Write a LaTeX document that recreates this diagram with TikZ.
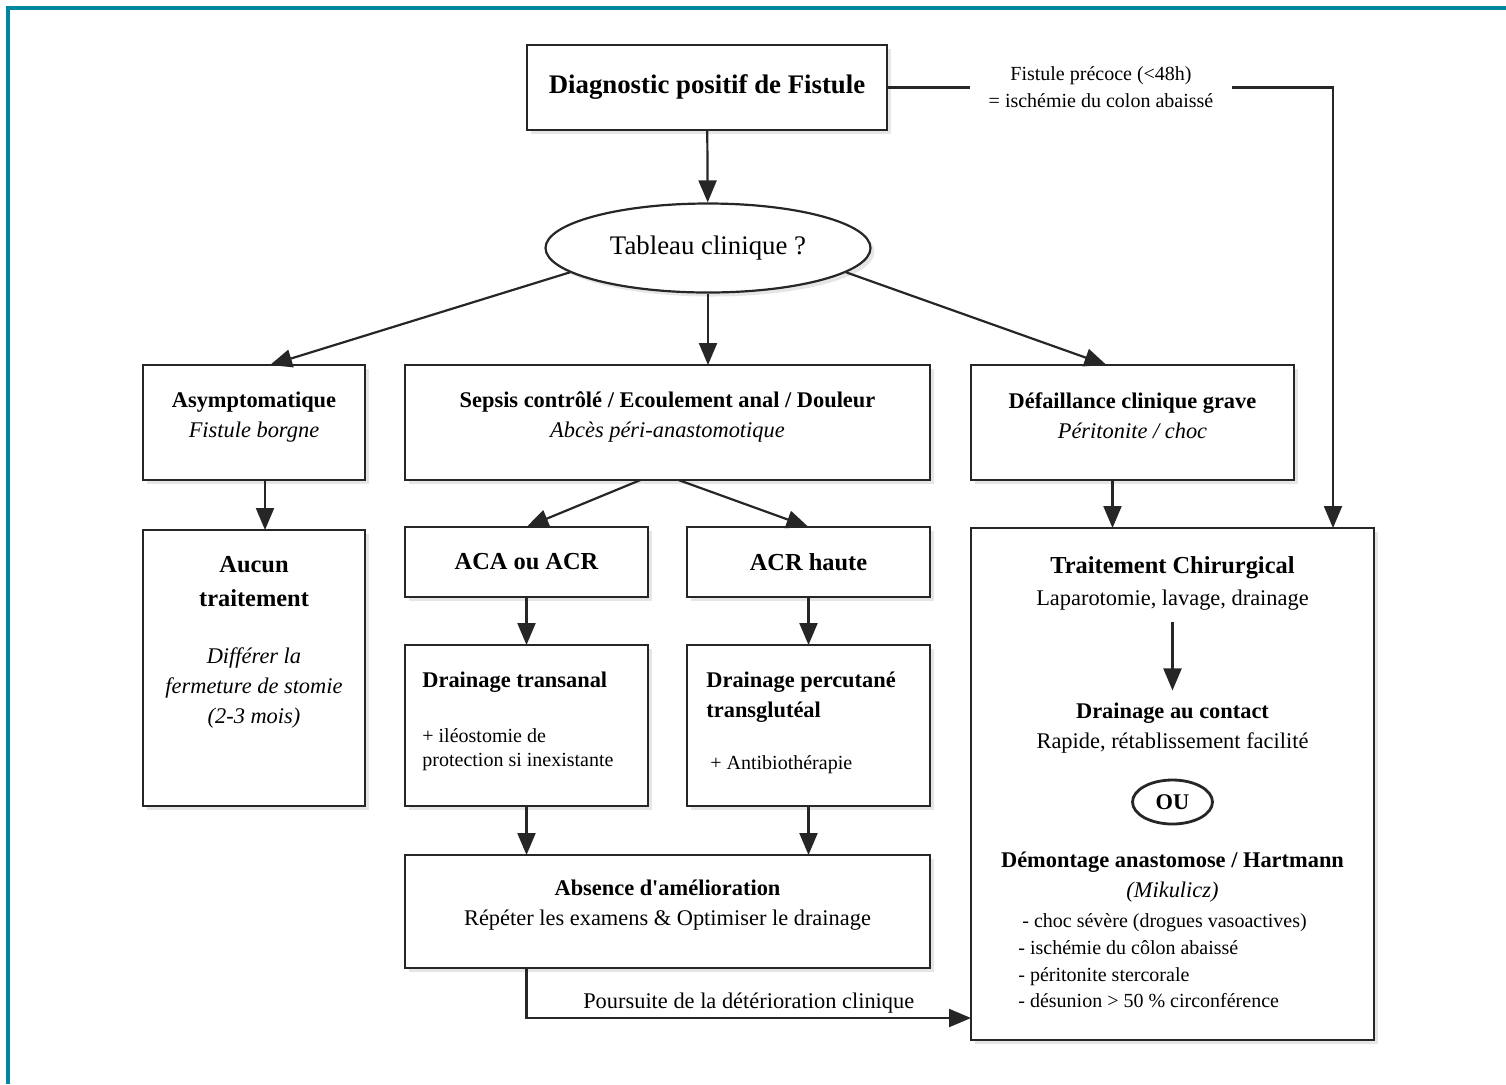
\documentclass[tikz,border=0pt]{standalone}
\usepackage{fontspec}
\setmainfont{Liberation Serif}
\usetikzlibrary{
  arrows.meta,
  calc,
  shadows,
  shapes.geometric
}
\definecolor{frame}{RGB}{0,134,161}
\colorlet{ink}{black!85}

\newcommand\sizetitle{\fontsize{13.4pt}{16pt}\selectfont}
\newcommand\sizehead{\fontsize{12.2pt}{17pt}\selectfont}
\newcommand\sizebody{\fontsize{11.2pt}{15pt}\selectfont}
\newcommand\sizesmall{\fontsize{10pt}{13pt}\selectfont}

\tikzset{
  % Shared values that are assigned to different keys in the styles below.
  globals/line width/.initial=1.1pt,
  globals/shadow/.style={
    opacity=0.2,
    shadow xshift=2pt,
    shadow yshift=-2pt},
%
  % For plain connectors.
  line/.style={
    line width=\pgfkeysvalueof{/tikz/globals/line width},
    draw=ink},
%
  % For connectors with one arrow.
  connector/.style={
    line,
    -{Triangle[length=11pt,width=9pt]}},
%
  % For the boxes.  Filled so that the shadow stays behind.
  box/.style={
    line,
    fill=white,
    inner sep=0pt,
    outer sep=0pt,
    drop shadow={globals/shadow}},
%
  % For the question in the ellipse.
  question/.style={
    line,
    ellipse,
    fill=white,
    inner sep=0pt,
    drop shadow={globals/shadow}},
%
  % For texts put into a box.
  caption/.style={
    inner sep=0pt,
    align=center}
}

\begin{document}
\begin{tikzpicture}[x=0.5pt,y=-0.5pt]
  \useasboundingbox (0,0) rectangle (1506,1084);

  % The coloured frame round the figure.
  \fill[frame] (6,6) rectangle (1506,10);
  \fill[frame] (6,6) rectangle (10,1084);

  \node[box, minimum width=180pt, minimum height=42.5pt, font=\sizetitle\bfseries]
    (diag) at (707,87.5) {Diagnostic positif de Fistule};
  \node[caption, inner xsep=9pt, font=\fontsize{10pt}{13.5pt}\selectfont]
    (precoce) at (1101,87.5) {Fistule précoce (<48h)\\= ischémie du colon abaissé};
  \node[question, minimum width=162.5pt, minimum height=44.5pt, font=\sizetitle]
    (tab) at (708,248) {Tableau clinique ?};

  % First row.
  \node[box, minimum width=111pt, minimum height=57.5pt] (asym) at (254,422.5) {};
  \node[caption, font=\sizebody]
    (asymT) at (254,417) {\textbf{Asymptomatique}\\\textit{Fistule borgne}};
  \node[box, minimum width=262.5pt, minimum height=57.5pt] (sepsis) at (667.5,422.5) {};
  \node[caption, font=\sizebody]
    (sepsisT) at (667.5,417)
    {\textbf{Sepsis contrôlé / Ecoulement anal / Douleur}\\\textit{Abcès péri-anastomotique}};
  \node[box, minimum width=161.5pt, minimum height=57.5pt] (def) at (1132.5,422.5) {};
  \node[caption, font=\sizebody]
    (defT) at (1132.5,416) {\textbf{Défaillance clinique grave}\\\textit{Péritonite / choc}};

  % Left column.
  \node[box, minimum width=111pt, minimum height=138pt] (aucun) at (254,668) {};
  \node[caption, font=\sizehead\bfseries] (aucunT) at (254,582) {Aucun\\traitement};
  \node[caption, font=\sizebody\itshape]
    (aucunS) at (254,688) {Différer la\\fermeture de stomie\\(2-3 mois)};

  % Middle columns.
  \node[box, minimum width=121.5pt, minimum height=35pt, font=\sizehead\bfseries]
    (aca) at (526.5,562) {ACA ou ACR};
  \node[box, minimum width=121.5pt, minimum height=35pt, font=\sizehead\bfseries]
    (acrh) at (808.5,562) {ACR haute};
  \node[box, minimum width=121.5pt, minimum height=80.5pt] (dtrans) at (526.5,725.5) {};
  \node[caption, anchor=west, font=\sizebody\bfseries]
    (dtransT) at (422,682) {Drainage transanal};
  \node[caption, anchor=west, align=left, font=\fontsize{10pt}{12pt}\selectfont]
    (dtransS) at (422,750) {+ iléostomie de\\protection si inexistante};
  \node[box, minimum width=121.5pt, minimum height=80.5pt] (dperc) at (808.5,725.5) {};
  \node[caption, anchor=west, align=left, font=\sizebody\bfseries]
    (dpercT) at (706,697) {Drainage percutané\\transglutéal};
  \node[caption, anchor=west, font=\sizesmall]
    (dpercS) at (710,765) {+ Antibiothérapie};
  \node[box, minimum width=262.5pt, minimum height=56.5pt] (absence) at (667.5,911.5) {};
  \node[caption, font=\sizebody]
    (absenceT) at (667.5,905)
    {\textbf{Absence d\textquotesingle amélioration}\\Répéter les examens \& Optimiser le drainage};

  % Right column.
  \node[box, minimum width=201.5pt, minimum height=256pt] (trait) at (1172.5,784) {};
  \node[caption, inner ysep=6pt, font=\sizebody]
    (tchir) at (1172.5,583) {{\sizehead\bfseries Traitement Chirurgical}\\[1pt]Laparotomie, lavage, drainage};
  \node[caption, inner ysep=6pt, font=\sizebody]
    (contact) at (1172.5,728) {\textbf{Drainage au contact}\\Rapide, rétablissement facilité};
  \node[ellipse, draw=ink, line width=1.4pt, inner sep=0pt, minimum width=40pt,
        minimum height=22pt, font=\sizebody\bfseries]
    (ou) at (1172.5,802) {OU};
  \node[caption, font=\sizebody]
    (demont) at (1172.5,877) {\textbf{Démontage anastomose / Hartmann}\\\textit{(Mikulicz)}};
  \node[caption, anchor=west, align=left, font=\fontsize{10pt}{13.3pt}\selectfont]
    (dlist) at (1018,961)
    {\hspace{2pt}- choc sévère (drogues vasoactives)\\- ischémie du côlon abaissé\\
     - péritonite stercorale\\- désunion > 50 \% circonférence};

  % Connectors.
  \draw[connector] (diag) -- (tab);
  \draw[line] (diag.east) -- (precoce.west);
  \draw[connector] (precoce.east) -| ($(trait.north)+(160.5,0)$);
  \draw[connector] (tab.190) -- ($(asym.north)+(16,0)$);
  \draw[connector] (tab.south) -- (tab.south |- sepsis.north);
  \draw[connector] (tab.350) -- ($(def.north)+(-26,0)$);
  \draw[connector] ($(asym.south)+(11,0)$) -- ($(aucun.north)+(11,0)$);
  \draw[connector] ($(sepsis.south)+(-27,0)$) -- (aca.north);
  \draw[connector] ($(sepsis.south)+(11,0)$) -- (acrh.north);
  \draw[connector] (aca) -- (dtrans);
  \draw[connector] (acrh) -- (dperc);
  \draw[connector] (dtrans) -- (dtrans |- absence.north);
  \draw[connector] (dperc) -- (dperc |- absence.north);
  \draw[connector] (dtrans |- absence.south) |-
    node[above, pos=0.75, font=\sizebody, inner sep=2pt] {Poursuite de la détérioration clinique}
    ($(trait.south west)+(0,-22)$);
  \draw[connector] ($(def.south)+(-20,0)$) -- ($(trait.north)+(-60,0)$);
  \draw[connector] (tchir) -- (contact);
\end{tikzpicture}
\end{document}
